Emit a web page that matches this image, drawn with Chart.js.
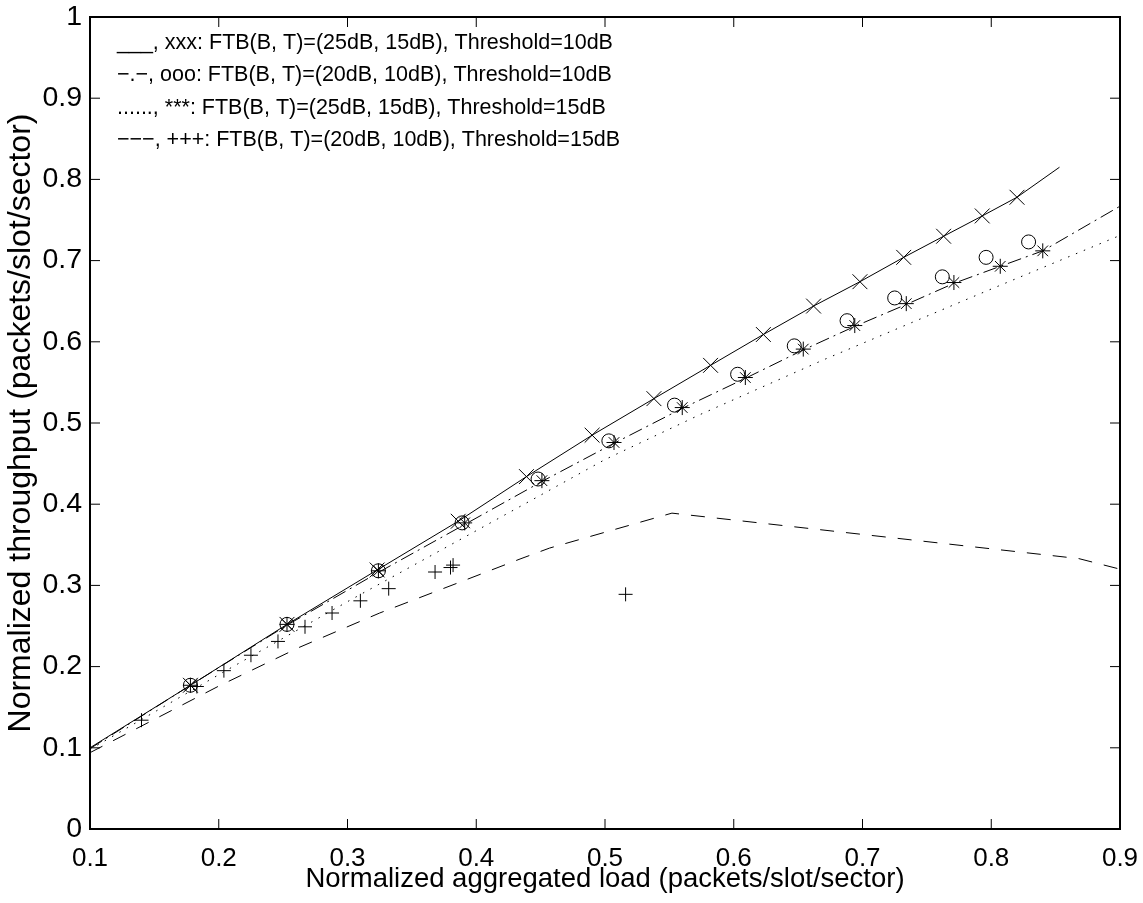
<!DOCTYPE html>
<html>
<head>
<meta charset="utf-8">
<script src="https://cdn.jsdelivr.net/npm/chart.js@4.4.0/dist/chart.umd.min.js"></script>
<style>
html,body{margin:0;padding:0;background:#fff;}
canvas{display:block;}
</style>
</head>
<body>
<canvas id="c" width="1143" height="903" style="width:1143px;height:903px"></canvas>
<script>
// ---- tick labels ----
const xTickLabels = ['0.1','0.2','0.3','0.4','0.5','0.6','0.7','0.8','0.9'];
const yTickLabels = ['0','0.1','0.2','0.3','0.4','0.5','0.6','0.7','0.8','0.9','1'];

// ---- curves ----
// solid line (Threshold=10dB, FTB 25/15)
const solidX = [0.100,0.178,0.253,0.323,0.386,0.439,0.490,0.538,0.582,0.623,0.662,0.698,0.732,0.763,0.793,0.820,0.853];
const solidY = [0.100,0.177,0.252,0.319,0.379,0.434,0.485,0.530,0.571,0.609,0.644,0.674,0.704,0.730,0.755,0.778,0.815];
// dash-dot line (Threshold=10dB, FTB 20/10)
const dashDotX = [0.100,0.178,0.253,0.324,0.391,0.451,0.507,0.560,0.609,0.654,0.694,0.734,0.771,0.807,0.840,0.900];
const dashDotY = [0.099,0.177,0.251,0.316,0.375,0.428,0.475,0.518,0.555,0.590,0.619,0.646,0.672,0.693,0.712,0.767];
// dotted line (Threshold=15dB, FTB 25/15)
const dottedX = [0.100,0.200,0.300,0.403,0.500,0.574,0.670,0.800,0.900];
const dottedY = [0.098,0.190,0.280,0.370,0.455,0.5105,0.578,0.665,0.731];
// dashed line (Threshold=15dB, FTB 20/10)
const dashedX = [0.100,0.200,0.263,0.325,0.434,0.457,0.552,0.868,0.900];
const dashedY = [0.094,0.176,0.224,0.266,0.3325,0.346,0.389,0.333,0.320];

// ---- markers ----
const xMarkX = [0.178,0.253,0.323,0.386,0.439,0.490,0.538,0.582,0.623,0.662,0.698,0.732,0.763,0.793,0.820];
const xMarkY = [0.177,0.252,0.319,0.379,0.434,0.485,0.530,0.571,0.609,0.644,0.674,0.704,0.730,0.755,0.778];
const oMarkX = [0.178,0.253,0.324,0.389,0.448,0.503,0.554,0.603,0.647,0.688,0.725,0.762,0.796,0.829];
const oMarkY = [0.177,0.252,0.318,0.377,0.431,0.478,0.522,0.560,0.595,0.626,0.654,0.680,0.704,0.723];
const starMarkX = [0.178,0.253,0.324,0.391,0.451,0.507,0.560,0.609,0.654,0.694,0.734,0.771,0.807,0.840];
const starMarkY = [0.177,0.252,0.318,0.377,0.429,0.476,0.519,0.556,0.591,0.620,0.647,0.673,0.693,0.712];
const plusMarkX = [0.140,0.183,0.204,0.225,0.246,0.267,0.288,0.310,0.332,0.368,0.380,0.382,0.516];
const plusMarkY = [0.134,0.1755,0.195,0.214,0.231,0.249,0.266,0.281,0.296,0.3165,0.322,0.325,0.289];

// ---- annotation text ----
const legendLines = [
  '___, xxx: FTB(B, T)=(25dB, 15dB), Threshold=10dB',
  '\u2212.\u2212, ooo: FTB(B, T)=(20dB, 10dB), Threshold=10dB',
  '......, ***: FTB(B, T)=(25dB, 15dB), Threshold=15dB',
  '\u2212\u2212\u2212, +++: FTB(B, T)=(20dB, 10dB), Threshold=15dB'
];
const xTitle = 'Normalized aggregated load (packets/slot/sector)';
const yTitle = 'Normalized throughput (packets/slot/sector)';

const FAMILY = '"Liberation Sans", Arial, Helvetica, sans-serif';
const pts = (xs, ys) => xs.map((v, i) => ({x: v, y: ys[i]}));

function lineDs(xs, ys, dash) {
  return {data: pts(xs, ys), showLine: true, borderColor: '#000', borderWidth: 1,
          borderDash: dash, pointRadius: 0, pointHoverRadius: 0, fill: false, tension: 0};
}
function markDs(xs, ys, style, r) {
  return {data: pts(xs, ys), showLine: false, pointStyle: style, pointRadius: r,
          pointBorderColor: '#000', pointBackgroundColor: 'rgba(0,0,0,0)', pointBorderWidth: 1,
          borderColor: '#000', backgroundColor: 'rgba(0,0,0,0)'};
}

const frameTicks = {
  id: 'frameTicks',
  afterDatasetsDraw(chart) {
    const {ctx, chartArea: a, scales: {x, y}} = chart;
    ctx.save();
    ctx.strokeStyle = '#000';
    ctx.lineWidth = 1;
    ctx.beginPath();
    x.ticks.forEach(t => {
      const p = x.getPixelForValue(t.value);
      ctx.moveTo(p, a.bottom); ctx.lineTo(p, a.bottom - 10);
      ctx.moveTo(p, a.top); ctx.lineTo(p, a.top + 10);
    });
    y.ticks.forEach(t => {
      const p = y.getPixelForValue(t.value);
      ctx.moveTo(a.left, p); ctx.lineTo(a.left + 10, p);
      ctx.moveTo(a.right, p); ctx.lineTo(a.right - 10, p);
    });
    ctx.stroke();
    ctx.lineWidth = 2;
    ctx.strokeRect(a.left, a.top, a.right - a.left, a.bottom - a.top);
    ctx.restore();
  },
  afterDraw(chart) {
    const {ctx} = chart;
    ctx.save();
    ctx.fillStyle = '#000';
    ctx.font = '21.5px ' + FAMILY;
    ctx.textAlign = 'left';
    ctx.textBaseline = 'middle';
    const y0 = 43, dy = 32.3, x0 = 117;
    legendLines.forEach((s, i) => ctx.fillText(s, x0, y0 + i * dy));
    ctx.restore();
  }
};

new Chart(document.getElementById('c'), {
  type: 'scatter',
  data: {
    datasets: [
      lineDs(solidX, solidY, []),
      lineDs(dashDotX, dashDotY, [14, 5, 2, 5]),
      lineDs(dottedX, dottedY, [1.5, 7]),
      lineDs(dashedX, dashedY, [14, 12]),
      markDs(xMarkX, xMarkY, 'crossRot', 10.5),
      markDs(oMarkX, oMarkY, 'circle', 7),
      markDs(starMarkX, starMarkY, 'star', 7.5),
      markDs(plusMarkX, plusMarkY, 'cross', 7)
    ]
  },
  options: {
    responsive: false,
    devicePixelRatio: 1,
    animation: false,
    layout: {padding: {top: 17, right: 23, left: 0, bottom: 0}},
    plugins: {legend: {display: false}, tooltip: {enabled: false}},
    elements: {line: {borderCapStyle: 'butt'}},
    scales: {
      x: {
        type: 'linear', min: 0.1, max: 0.9,
        afterFit(s) { s.height = 74; s.paddingLeft = 0; s.paddingRight = 0; },
        grid: {display: false, drawTicks: false},
        border: {display: false},
        ticks: {stepSize: 0.1, autoSkip: false, maxRotation: 0, padding: 14, color: '#000',
                font: {family: FAMILY, size: 26},
                callback: (v, i) => xTickLabels[i]},
        title: {display: true, text: xTitle, color: '#000', font: {family: FAMILY, size: 27.5},
                padding: {top: 0, bottom: 7}}
      },
      y: {
        type: 'linear', min: 0, max: 1,
        afterFit(s) { s.width = 90; s.paddingTop = 0; s.paddingBottom = 0; },
        grid: {display: false, drawTicks: false},
        border: {display: false},
        ticks: {stepSize: 0.1, autoSkip: false, padding: 8, color: '#000',
                font: {family: FAMILY, size: 28.5},
                callback: (v, i) => yTickLabels[i]},
        title: {display: true, text: yTitle, color: '#000', font: {family: FAMILY, size: 32},
                padding: {top: 2, bottom: 0}}
      }
    }
  },
  plugins: [frameTicks]
});
</script>
</body>
</html>
